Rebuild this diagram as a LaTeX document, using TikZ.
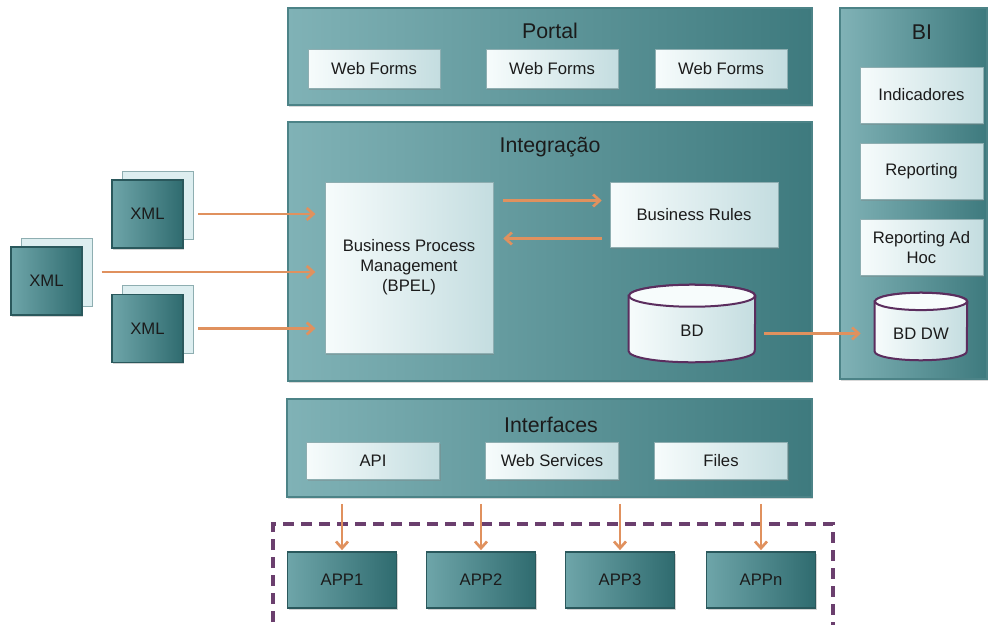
\documentclass[tikz,border=0pt]{standalone}
\usepackage{fontspec}
\setmainfont{Liberation Sans}
\usetikzlibrary{arrows.meta,shadows}

\definecolor{panelL}{HTML}{80B2B6}
\definecolor{panelR}{HTML}{3E7A7E}
\definecolor{panelB}{HTML}{4C8387}
\definecolor{boxL}{HTML}{F7FCFC}
\definecolor{boxR}{HTML}{C4DDE0}
\definecolor{boxB}{HTML}{8EAEB1}
\definecolor{tealL}{HTML}{6EA5A9}
\definecolor{tealR}{HTML}{2F6B6F}
\definecolor{tealB}{HTML}{2A585C}
\definecolor{sheet}{HTML}{DDEEF0}
\definecolor{arrorange}{HTML}{E0915E}
\definecolor{cylB}{HTML}{5B2D5E}
\definecolor{dashP}{HTML}{6B3F6E}
\definecolor{txt}{HTML}{1B1B1B}

% cylinder round a named node: name, x radius, y radius
\newcommand{\dbcyl}[3]{%
  \path[draw=cylB,line width=1.5pt,left color=boxL,right color=boxR]
    ([yshift=-#3]#1.north west) -- ([yshift=#3]#1.south west)
    arc[start angle=180,end angle=360,x radius=#2,y radius=#3]
    -- ([yshift=-#3]#1.north east)
    arc[start angle=0,end angle=180,x radius=#2,y radius=#3] -- cycle;
  \path[draw=cylB,line width=1.5pt,fill=boxL]
    ([yshift=-#3]#1.north) ellipse [x radius=#2,y radius=#3];
}

\begin{document}
\begin{tikzpicture}[x=0.75pt,y=-0.75pt,
  panel/.style={draw=panelB,line width=1.2pt,left color=panelL,right color=panelR,
    drop shadow={shadow xshift=1pt,shadow yshift=-1.2pt,opacity=0.3}},
  ptitle/.style={font=\fontsize{16}{18}\selectfont,text=txt},
  inbox/.style={draw=boxB,line width=0.4pt,left color=boxL,right color=boxR,
    font=\fontsize{12.5}{15}\selectfont,text=txt,align=center,inner sep=0pt,
    drop shadow={shadow xshift=1pt,shadow yshift=-1.2pt,opacity=0.35}},
  tealbox/.style={draw=tealB,line width=0.8pt,left color=tealL,right color=tealR,
    font=\fontsize{12.5}{15}\selectfont,text=txt,inner sep=0pt,
    drop shadow={shadow xshift=1pt,shadow yshift=-1.2pt,opacity=0.35}},
  sheetbox/.style={draw=boxB,fill=sheet,line width=0.6pt,minimum width=53.25pt,minimum height=51pt},
  xmlbox/.style={tealbox,minimum width=53.25pt,minimum height=51pt},
  appbox/.style={tealbox,minimum width=81.75pt,minimum height=42pt},
  dbase/.style={font=\fontsize{12.5}{15}\selectfont,text=txt,inner sep=0pt},
  arr/.style={draw=arrorange,line width=2pt,-{Straight Barb[length=5pt,width=9pt]}}
]
\useasboundingbox (0,0) rectangle (990,625);

% panels
\node[panel,minimum width=393pt,minimum height=72.75pt] (portal) at (550,56.5) {};
\node[panel,minimum width=393pt,minimum height=194.25pt] (integ) at (550,251.5) {};
\node[panel,minimum width=393.75pt,minimum height=73.5pt] (interf) at (549.5,448) {};
\node[panel,minimum width=110.25pt,minimum height=278.25pt] (bi) at (913.5,193.5) {};

\node[ptitle] (portalt) at (550,31) {Portal};
\node[ptitle] (integt) at (550,147) {Integração};
\node[ptitle] (interft) at (551,425) {Interfaces};
\node[ptitle] (bit) at (922,32) {BI};

% portal
\node[inbox,minimum width=99pt,minimum height=29.25pt] (wf1) at (374,68.5) {Web Forms};
\node[inbox,minimum width=99pt,minimum height=29.25pt] (wf2) at (552,68.5) {Web Forms};
\node[inbox,minimum width=99pt,minimum height=29.25pt] (wf3) at (721,68.5) {Web Forms};

% integracao
\node[inbox,minimum width=126pt,minimum height=128.25pt] (bpm) at (409,267.5) {Business Process\\Management\\(BPEL)};
\node[inbox,minimum width=126pt,minimum height=48.75pt] (rules) at (694,214.5) {Business Rules};
\node[dbase,minimum width=94.5pt,minimum height=57.75pt] (bd) at (692,323.5) {};
\dbcyl{bd}{47.25pt}{8.25pt}
\node[dbase] (bdt) at (692,331) {BD};

% BI
\node[inbox,minimum width=92.25pt,minimum height=42pt] (ind) at (921.5,95) {Indicadores};
\node[inbox,minimum width=92.25pt,minimum height=42pt] (rep) at (921.5,171) {Reporting};
\node[inbox,minimum width=92.25pt,minimum height=42pt] (adhoc) at (921.5,247.5) {Reporting Ad\\Hoc};
\node[dbase,minimum width=69pt,minimum height=50.25pt] (bddw) at (921,326.5) {};
\dbcyl{bddw}{34.5pt}{6.5pt}
\node[dbase] (bddwt) at (921,334) {BD DW};

% interfaces
\node[inbox,minimum width=100pt,minimum height=27.75pt] (api) at (373,460.5) {API};
\node[inbox,minimum width=100pt,minimum height=27.75pt] (ws) at (552,460.5) {Web Services};
\node[inbox,minimum width=100pt,minimum height=27.75pt] (files) at (721,460.5) {Files};

% XML
\node[sheetbox] (xml1b) at (157.5,205) {};
\node[xmlbox] (xml1) at (147.5,214) {XML};
\node[sheetbox] (xml2b) at (56.5,272) {};
\node[xmlbox] (xml2) at (46.5,281) {XML};
\node[sheetbox] (xml3b) at (157.5,319.5) {};
\node[xmlbox] (xml3) at (147.5,328.5) {XML};

% apps
\node[appbox] (app1) at (342,580) {APP1};
\node[appbox] (app2) at (481,580) {APP2};
\node[appbox] (app3) at (620,580) {APP3};
\node[appbox] (appn) at (761,580) {APPn};

\path[draw=dashP,line width=2.4pt,dash pattern=on 8pt off 5.5pt] (273,640) -- (273,524) -- (833,524) -- (833,640);

% arrows
\path[arr] ([xshift=11pt]xml1.east) -- ([xshift=-7pt]xml1.east -| bpm.west);
\path[arr] ([xshift=7pt]xml2b.east) -- ([xshift=-7pt]xml2b.east -| bpm.west);
\path[arr] ([xshift=11pt]xml3.east) -- ([xshift=-7pt]xml3.east -| bpm.west);

\path[arr] ([shift={(10,-14)}]bpm.east |- rules.west) -- ([shift={(-8,-14)}]rules.west);
\path[arr] ([shift={(-8,24)}]rules.west) -- ([shift={(10,24)}]bpm.east |- rules.west);

\path[arr] ([shift={(9,10)}]bd.east) -- ([shift={(-14,10)}]bd.east -| bddw.west);

\foreach \a in {app1,app2,app3,appn}
  \path[arr] ([yshift=-4.5pt]interf.south -| \a.north) -- ([yshift=1pt]\a.north);
\end{tikzpicture}
\end{document}
